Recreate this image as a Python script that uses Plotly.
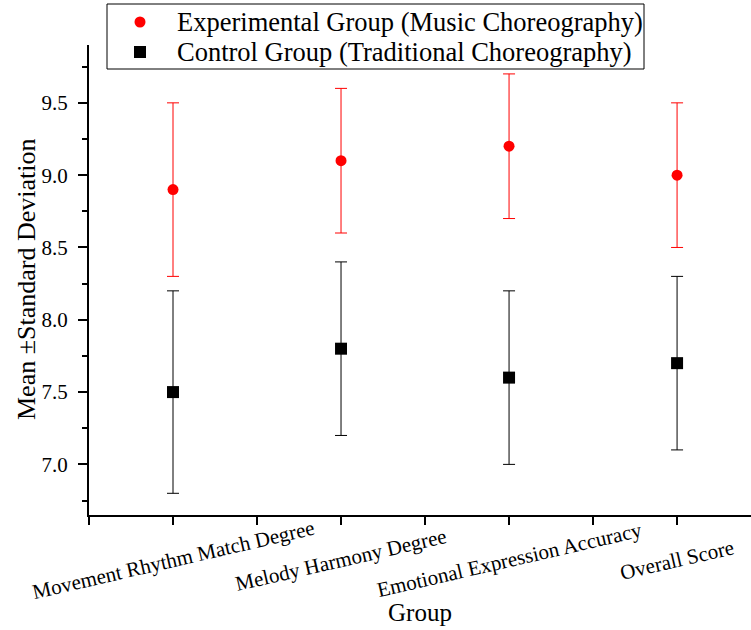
import plotly.graph_objects as go

categories = ["Movement Rhythm Match Degree", "Melody Harmony Degree",
              "Emotional Expression Accuracy", "Overall Score"]
exp_mean = [8.9, 9.1, 9.2, 9.0]
exp_sd = [0.6, 0.5, 0.5, 0.5]
ctrl_mean = [7.5, 7.8, 7.6, 7.7]
ctrl_sd = [0.7, 0.6, 0.6, 0.6]
y_ticks = [7.0, 7.5, 8.0, 8.5, 9.0, 9.5]
series_names = ["Experimental Group (Music Choreography)",
                "Control Group (Traditional Choreography)"]
series_colors = ["#ff0000", "#000000"]

FONT = "Liberation Serif, Times New Roman, serif"
W, H = 751, 630
ML, MR, MT, MB = 89, 0, 45, 115
PW, PH = W - ML - MR, H - MT - MB
xpos = list(range(len(categories)))
minor_x = [i - 0.5 for i in range(len(categories) + 1)]


def px_x(p):
    return (p - ML) / PW


def px_y(p):
    return (H - MB - p) / PH


fig = go.Figure()
fig.add_trace(go.Scatter(
    x=xpos, y=exp_mean, mode="markers", name=series_names[0],
    marker=dict(symbol="circle", size=11, color=series_colors[0]),
    error_y=dict(type="data", array=exp_sd, symmetric=True,
                 color=series_colors[0], thickness=1, width=6),
))
fig.add_trace(go.Scatter(
    x=xpos, y=ctrl_mean, mode="markers", name=series_names[1],
    marker=dict(symbol="square", size=12, color=series_colors[1]),
    error_y=dict(type="data", array=ctrl_sd, symmetric=True,
                 color=series_colors[1], thickness=1, width=6),
))

annotations = []
for i, c in enumerate(categories):
    annotations.append(dict(
        text=c, x=xpos[i], xref="x", y=0, yref="paper", yshift=-45,
        xanchor="center", yanchor="middle", textangle=-13, showarrow=False,
        font=dict(family=FONT, size=21, color="black"),
    ))
annotations.append(dict(
    text="Group", x=0.5, xref="paper", y=0, yref="paper", yshift=-97,
    xanchor="center", yanchor="middle", showarrow=False,
    font=dict(family=FONT, size=25, color="black"),
))
annotations.append(dict(
    text="Mean \u00b1Standard Deviation", x=0, xref="paper", xshift=-63,
    y=0.5, yref="paper", xanchor="center", yanchor="middle", textangle=-90,
    showarrow=False, font=dict(family=FONT, size=26, color="black"),
))

# legend (box, symbols, labels)
shapes = [dict(type="rect", xref="paper", yref="paper",
               x0=px_x(107), x1=px_x(644), y0=px_y(69), y1=px_y(4),
               line=dict(color="black", width=1), fillcolor="white",
               layer="above")]
row_y = [22, 52]
sym_x = 140
shapes.append(dict(type="circle", xref="paper", yref="paper",
                   x0=px_x(sym_x - 5.5), x1=px_x(sym_x + 5.5),
                   y0=px_y(row_y[0] + 5.5), y1=px_y(row_y[0] - 5.5),
                   line=dict(width=0), fillcolor=series_colors[0],
                   layer="above"))
shapes.append(dict(type="rect", xref="paper", yref="paper",
                   x0=px_x(sym_x - 6), x1=px_x(sym_x + 6),
                   y0=px_y(row_y[1] + 6), y1=px_y(row_y[1] - 6),
                   line=dict(width=0), fillcolor=series_colors[1],
                   layer="above"))
for name, ry in zip(series_names, row_y):
    annotations.append(dict(
        text=name, x=px_x(175), xref="paper", y=px_y(ry), yref="paper",
        xanchor="left", yanchor="middle", showarrow=False,
        font=dict(family=FONT, size=26.5, color="black"),
    ))

fig.update_layout(
    width=W, height=H, autosize=False,
    margin=dict(l=ML, r=MR, t=MT, b=MB),
    paper_bgcolor="white", plot_bgcolor="white",
    font=dict(family=FONT, color="black"),
    showlegend=False,
    xaxis=dict(
        range=[-0.5, 3.44], showline=True, linewidth=2, linecolor="black",
        ticks="outside", ticklen=8, tickwidth=2, tickcolor="black",
        tickvals=xpos, showticklabels=False, showgrid=False, zeroline=False,
        minor=dict(ticks="outside", tickvals=minor_x, ticklen=8, tickwidth=2,
                   tickcolor="black", showgrid=False),
    ),
    yaxis=dict(
        range=[6.65, 9.9], showline=True, linewidth=2, linecolor="black",
        ticks="outside", ticklen=9, tickwidth=2, tickcolor="black",
        tickvals=y_ticks, tickformat=".1f", showgrid=False, zeroline=False,
        tickfont=dict(family=FONT, size=21, color="black"),
        ticklabelstandoff=6,
        minor=dict(ticks="outside", dtick=0.25, tick0=0, ticklen=5,
                   tickwidth=2, tickcolor="black", showgrid=False),
    ),
    shapes=shapes,
    annotations=annotations,
)

fig.write_html("out.html", config={"displayModeBar": False},
               post_script="document.body.style.margin='0';")
